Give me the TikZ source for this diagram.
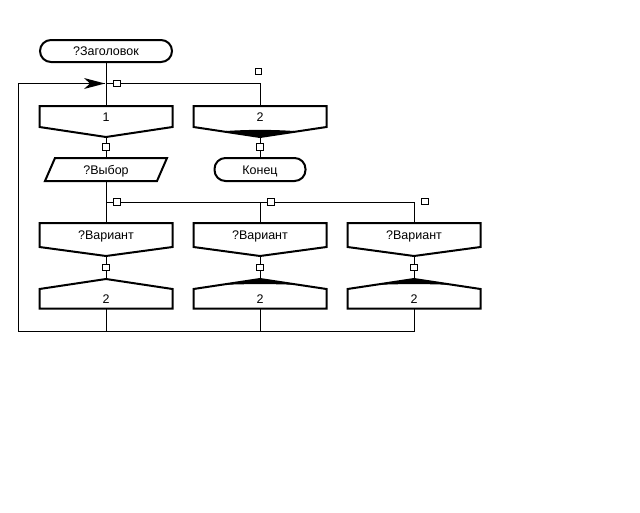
\documentclass[tikz,border=0pt]{standalone}
\usepackage{fontspec}
\setmainfont{Liberation Sans}
\usetikzlibrary{calc,arrows.meta}
\newcommand\dfont{\fontsize{12.5}{14}\selectfont}
\begin{document}
\begin{tikzpicture}[x=1pt,y=-1pt,
  conn/.style={line width=1pt},
  boxline/.style={line width=2pt,line join=miter},
  lbl/.style={inner sep=0pt,outer sep=0pt,font=\dfont,minimum width=133pt,text height=9pt,text depth=0pt},
  sqbox/.style={draw,fill=white,line width=1pt,minimum size=6.5pt,inner sep=0pt,outer sep=0pt},
  term/.style={draw,line width=2pt,rounded corners=11pt,inner sep=0pt,outer sep=0pt,font=\dfont,text height=9pt,text depth=0pt},
  lens/.style={fill=black,draw=none}]
\useasboundingbox[fill=white] (0,0) rectangle (640,512);

% title
\node[term,minimum width=132pt,minimum height=22pt] (title) at (106,51) {?Заголовок};

% junction coordinates
\coordinate (j1) at (106,83.5);
\coordinate (topL) at (18.5,83.5);
\coordinate (topR) at (260,83.5);
\coordinate (j2) at (106,202);
\coordinate (j2M) at (260,202);
\coordinate (j2R) at (414,202);
\coordinate (bot1) at (106,331.5);
\coordinate (bot2) at (260,331.5);
\coordinate (bot3) at (414,331.5);
\coordinate (botL) at (18.5,331.5);

% branch boxes
\node[lbl,minimum height=21pt] (b1) at (106,116.5) {1};
\node[lbl,minimum height=21pt] (b2) at (260,116.5) {2};
\coordinate (b1p) at ($(b1.south)+(0,10)$);
\coordinate (b2p) at ($(b2.south)+(0,10)$);

% select (parallelogram)
\node[lbl,minimum width=122pt,minimum height=23pt] (sel) at (106,169.5) {?Выбор};
% end
\node[term,minimum width=91pt,minimum height=23pt] (fin) at (260,169.5) {Конец};

% variant boxes
\node[lbl,minimum height=24pt] (v1) at (106,235) {?Вариант};
\node[lbl,minimum height=24pt] (v2) at (260,235) {?Вариант};
\node[lbl,minimum height=24pt] (v3) at (414,235) {?Вариант};
\coordinate (v1p) at ($(v1.south)+(0,9)$);
\coordinate (v2p) at ($(v2.south)+(0,9)$);
\coordinate (v3p) at ($(v3.south)+(0,9)$);

% address boxes
\node[lbl,minimum height=19.5pt] (a1) at (106,298.75) {2};
\node[lbl,minimum height=19.5pt] (a2) at (260,298.75) {2};
\node[lbl,minimum height=19.5pt] (a3) at (414,298.75) {2};
\coordinate (a1p) at ($(a1.north)+(0,-10)$);
\coordinate (a2p) at ($(a2.north)+(0,-10)$);
\coordinate (a3p) at ($(a3.north)+(0,-10)$);

% connectors
\draw[conn] (title.south) -- (b1.north);
\draw[conn] (j1) -- (topR) -- (b2.north);
\draw[conn] (b1p) -- (sel.north);
\draw[conn] (b2p) -- (fin.north);
\draw[conn] (sel.south) -- (v1.north);
\draw[conn] (j2) -- (j2R) -- (v3.north);
\draw[conn] (j2M) -- (v2.north);
\draw[conn] (v1p) -- (a1p);
\draw[conn] (v2p) -- (a2p);
\draw[conn] (v3p) -- (a3p);
\draw[conn] (a1.south) -- (bot1);
\draw[conn] (a2.south) -- (bot2);
\draw[conn] (a3.south) -- (bot3) -- (botL) -- (topL)
  -- ([xshift=-1pt]j1);
\fill ([xshift=-1pt]j1) -- ++(-21,-5.5) -- ++(6,5.5) -- ++(-6,5.5) -- cycle;

% shapes
\foreach \b/\p in {b1/b1p,b2/b2p,v1/v1p,v2/v2p,v3/v3p}{
  \draw[boxline] (\b.south west) -- (\b.north west) -- (\b.north east)
    -- (\b.south east) -- (\p) -- cycle;
}
\foreach \b/\p in {a1/a1p,a2/a2p,a3/a3p}{
  \draw[boxline] (\b.north west) -- (\p) -- (\b.north east)
    -- (\b.south east) -- (\b.south west) -- cycle;
}
\draw[boxline] ($(sel.north west)+(10,0)$) -- (sel.north east)
  -- ($(sel.south east)+(-10,0)$) -- (sel.south west) -- cycle;

% thick lenses
\fill[lens] ($(b2p)+(-38,-5.7)$) .. controls ($(b2p)+(-14,-7.6)$) and ($(b2p)+(14,-7.6)$) .. ($(b2p)+(38,-5.7)$) -- (b2p) -- cycle;
\fill[lens] ($(a2p)+(-40,6)$) .. controls ($(a2p)+(-14,4.8)$) and ($(a2p)+(14,4.8)$) .. ($(a2p)+(40,6)$) -- (a2p) -- cycle;
\fill[lens] ($(a3p)+(-40,6)$) .. controls ($(a3p)+(-14,4.8)$) and ($(a3p)+(14,4.8)$) .. ($(a3p)+(40,6)$) -- (a3p) -- cycle;

% small squares
\node[sqbox] (s1) at (117,83.5) {};
\node[sqbox] (s2) at (258.5,71.5) {};
\node[sqbox] (s3) at (106,147) {};
\node[sqbox] (s4) at (260,147) {};
\node[sqbox] (s5) at (117,202) {};
\node[sqbox] (s6) at (271,202) {};
\node[sqbox] (s7) at (425,201.5) {};
\node[sqbox] (s8) at (106,267.5) {};
\node[sqbox] (s9) at (260,267.5) {};
\node[sqbox] (s10) at (414,267.5) {};
\end{tikzpicture}
\end{document}
